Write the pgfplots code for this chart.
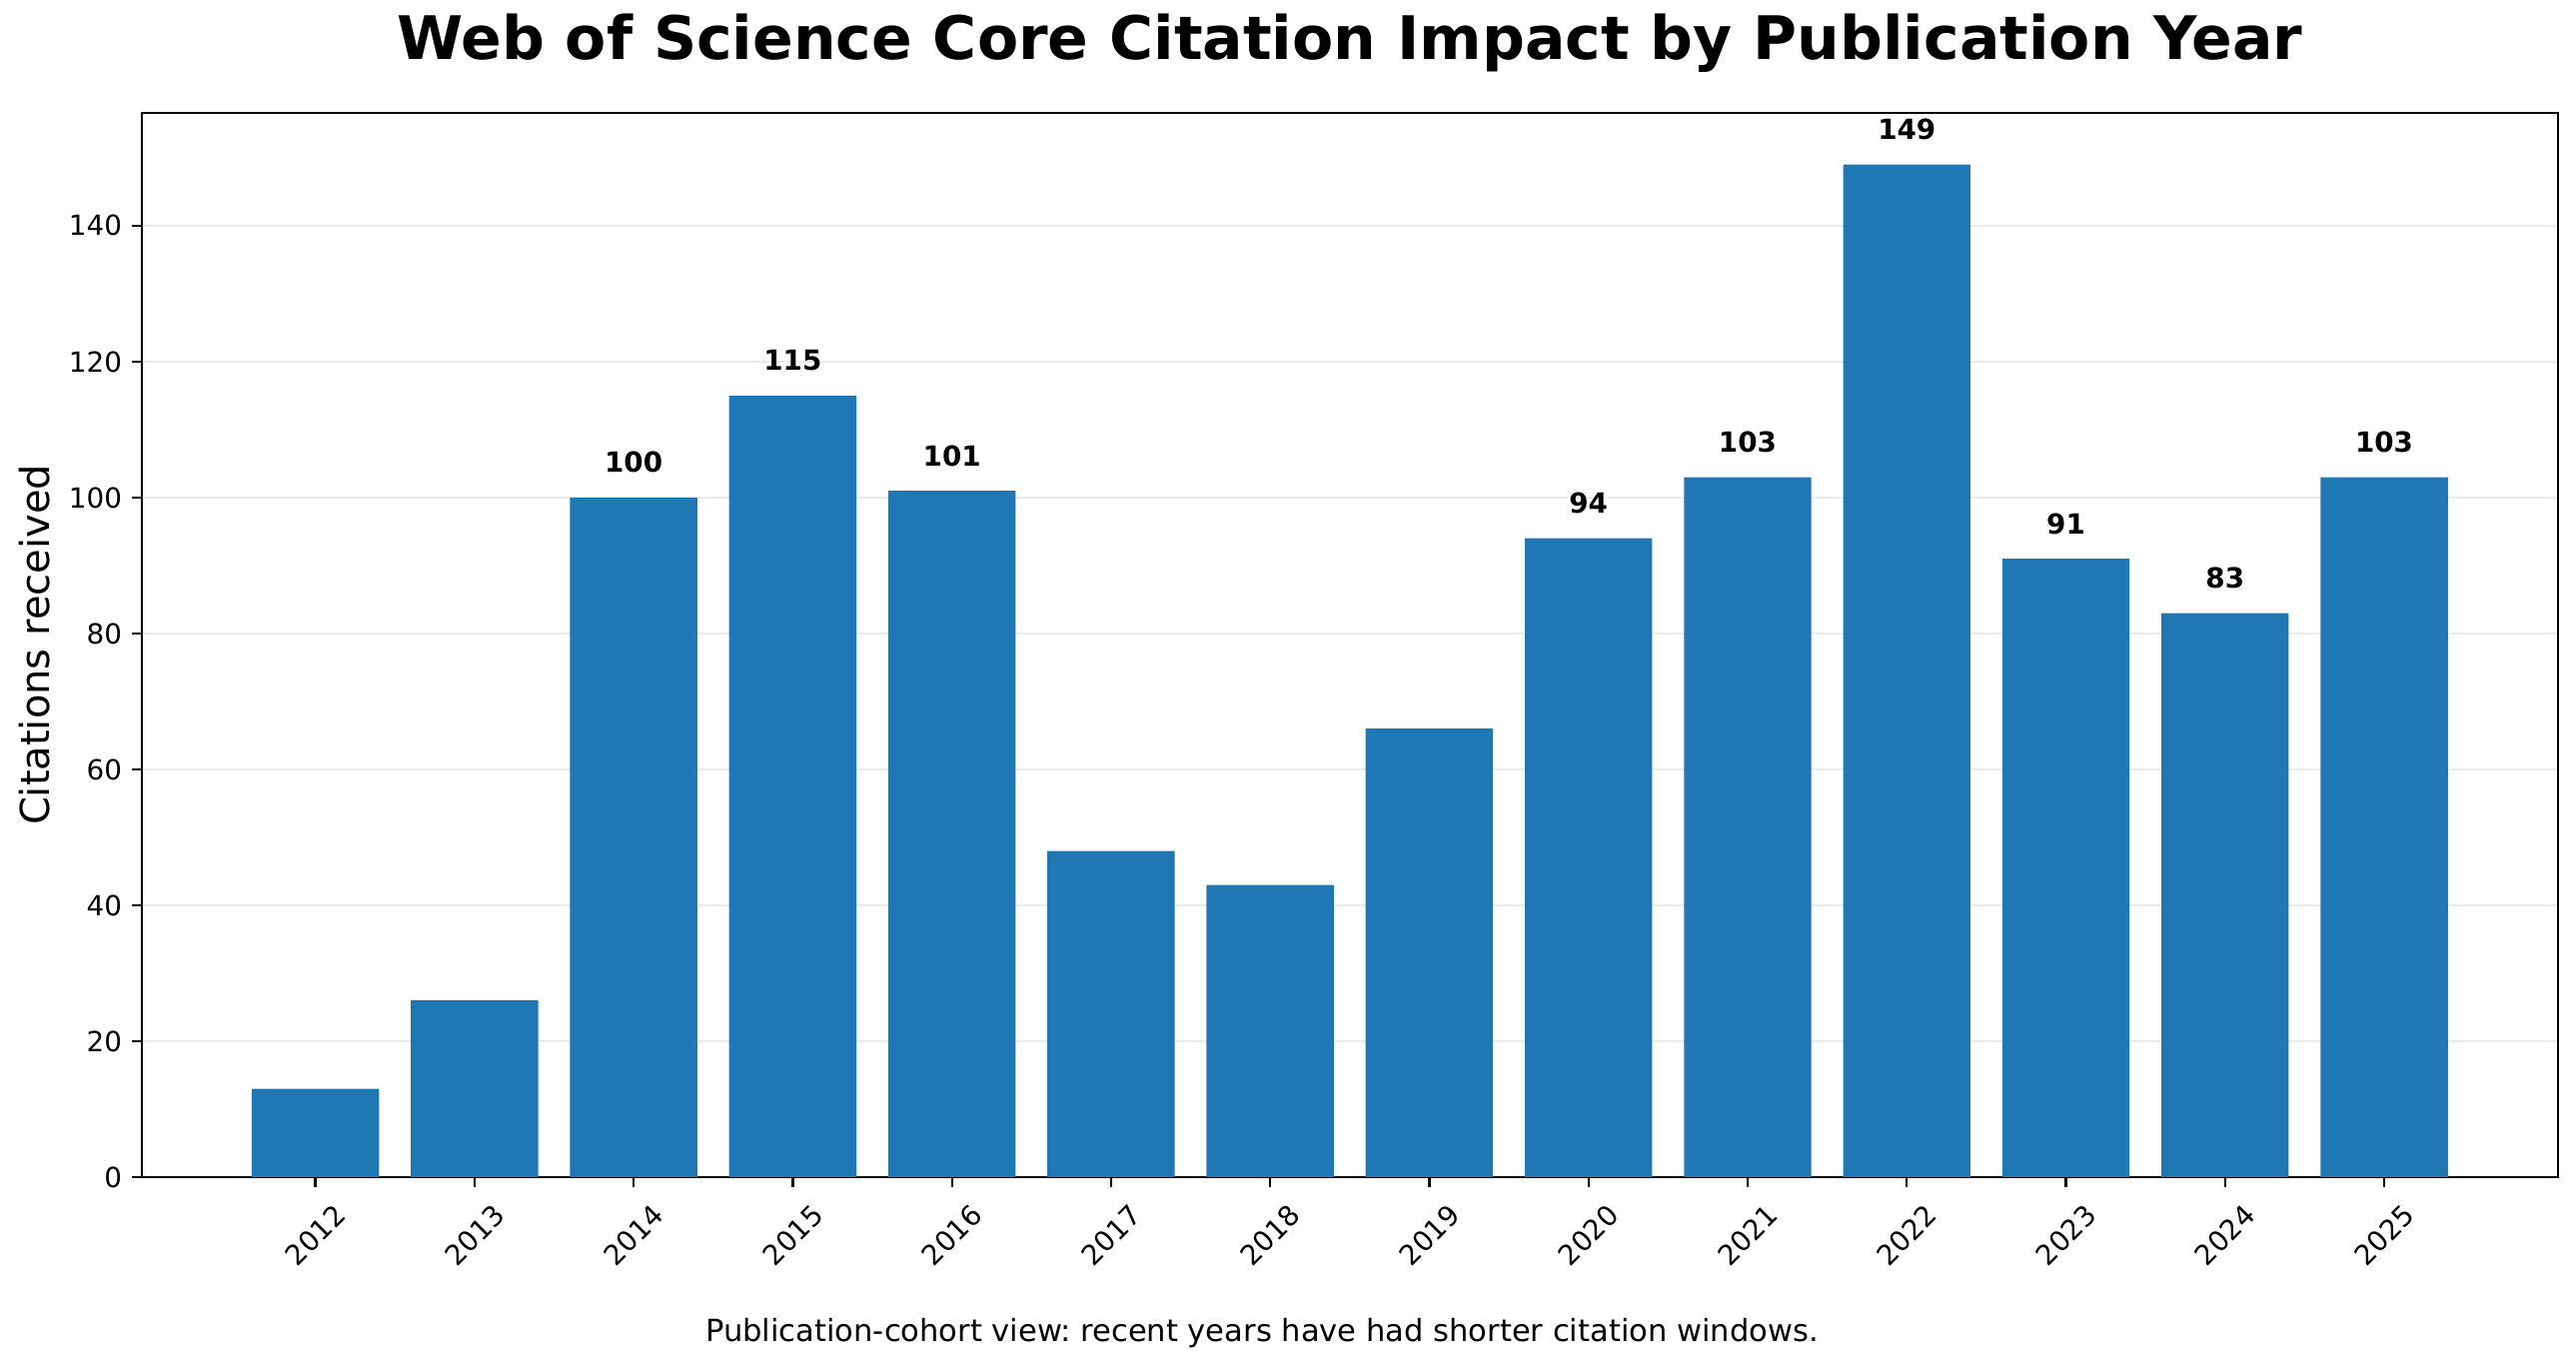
\documentclass[border=0pt]{standalone}
\usepackage{fontspec}
\setmainfont{DejaVu Sans}
\usepackage{pgfplots}
\usepackage{pgfplotstable}
\pgfplotsset{compat=1.18}
\frenchspacing
\definecolor{barblue}{HTML}{1F77B4}
\definecolor{gridgray}{HTML}{EBEBEB}
\pgfplotstableread{
x y lbl
0 13 {}
1 26 {}
2 100 100
3 115 115
4 101 101
5 48 {}
6 43 {}
7 66 {}
8 94 94
9 103 103
10 149 149
11 91 91
12 83 83
13 103 103
}\citedata
\begin{document}
\begin{tikzpicture}
\path[use as bounding box] (0,0) rectangle (928.08bp,492.12bp);
\begin{axis}[
  at={(51.12bp,68.04bp)}, anchor=south west,
  scale only axis, width=870.34bp, height=383.4bp,
  clip=false,
  xmin=-1.09, xmax=14.09, ymin=0, ymax=156.6,
  ybar, bar width=0.8,
  xtick={0,1,2,3,4,5,6,7,8,9,10,11,12,13},
  xticklabels={2012,2013,2014,2015,2016,2017,2018,2019,2020,2021,2022,2023,2024,2025},
  ytick={0,20,40,60,80,100,120,140},
  xtick pos=bottom, ytick pos=left,
  tick align=outside, major tick length=3.5bp,
  ymajorgrids, grid style={gridgray, line width=0.8bp},
  axis line style={line width=0.8bp},
  every tick/.style={black, line width=0.8bp},
  tick label style={font=\fontsize{10bp}{12bp}\selectfont, black},
  /pgf/number format/assume math mode=true,
  yticklabel style={anchor=east, inner sep=0pt, xshift=-3.5bp},
  xticklabel style={yshift=-17.4bp, rotate=45, anchor=center},
  nodes near coords, point meta=explicit symbolic,
  every node near coord/.append style={anchor=base, yshift=9bp, inner sep=0pt, black, font=\bfseries\fontsize{10bp}{12bp}\selectfont},
  ylabel={Citations received},
  ylabel style={at={(axis description cs:-0.03805,0.5)}, anchor=base, font=\fontsize{14.4bp}{16bp}\selectfont},
  title={Web of Science Core Citation Impact by Publication Year},
  title style={at={(axis description cs:0.5,1.0344)}, anchor=base, yshift=0pt, inner sep=0pt, font=\bfseries\fontsize{21.6bp}{26bp}\selectfont},
]
\addplot[fill=barblue, draw=none] table[x=x, y=y, meta=lbl] {\citedata};
\node[anchor=base, inner sep=0pt, font=\fontsize{11bp}{13bp}\selectfont] at (axis description cs:0.4637,-0.1549) {Publication-cohort view: recent years have had shorter citation windows.};
\end{axis}
\end{tikzpicture}
\end{document}
